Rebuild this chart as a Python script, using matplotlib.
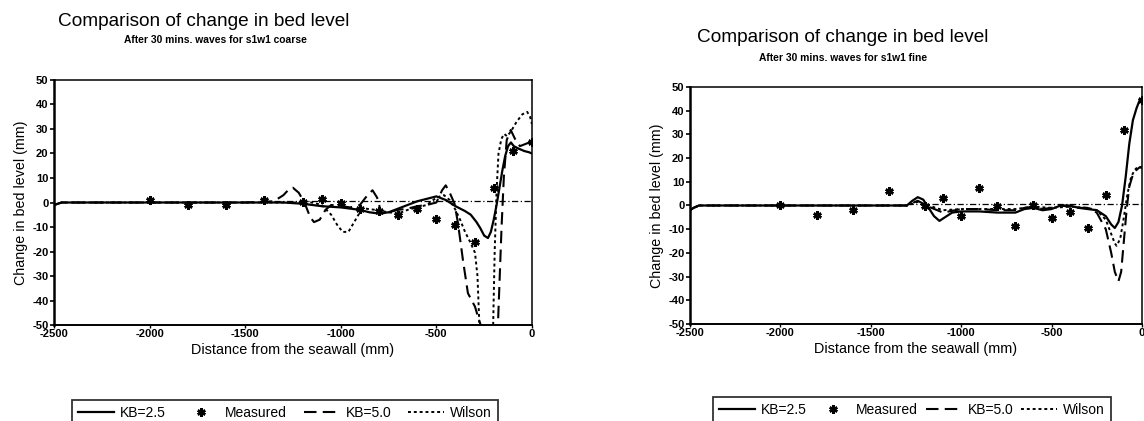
import matplotlib
matplotlib.use("Agg")
import matplotlib.pyplot as plt
from matplotlib import font_manager

# ---- data ----
x_ticks = [-2500, -2000, -1500, -1000, -500, 0]
y_ticks = [-50, -40, -30, -20, -10, 0, 10, 20, 30, 40, 50]

# coarse sand (left)
coarse_meas_x = [-2000, -1800, -1600, -1400, -1200, -1100, -1000, -900, -800, -700,
                 -600, -500, -400, -300, -200, -100, 0]
coarse_meas_y = [1, -1, -1, 1.2, 0.4, 1.4, -0.3, -2.7, -3.5, -5.1,
                 -2.7, -6.6, -9.2, -16, 6, 21, 24.7]

coarse_kb25_x = [-2500, -2460, -2000, -1500, -1300, -1200, -1100, -1000, -900, -850,
                 -800, -750, -700, -650, -600, -550, -500, -450, -400, -350,
                 -320, -290, -270, -250, -230, -215, -200, -185, -170, -155,
                 -140, -125, -110, -95, -70, -40, -15, 0]
coarse_kb25_y = [-1, 0, 0, 0, 0, -0.5, -1.5, -2, -3, -4,
                 -4.5, -4, -2.5, -1, 0.5, 1.5, 2.5, 1, -1.5, -3.5,
                 -5, -8, -10.5, -13.5, -14.5, -12, -7, -1, 6, 13,
                 19, 23, 24.5, 23, 22, 21, 20.5, 20]

coarse_kb50_x = [-2500, -2460, -2000, -1500, -1350, -1300, -1270, -1250, -1220, -1190,
                 -1160, -1140, -1110, -1080, -1050, -1000, -950, -900, -860, -834,
                 -810, -787, -750, -700, -650, -600, -550, -500, -470, -451,
                 -430, -405, -387, -361, -335, -298, -277, -268, -260, -185,
                 -178, -159, -147, -132, -111, -89, -63, -30, 0]
coarse_kb50_y = [-1, 0, 0, 0, 0.5, 3, 5.5, 6, 4, 0,
                 -6, -8, -7, -3, -1, -1.5, -2, -1, 3, 5,
                 2, -4.5, -4, -3, -2.5, -1.5, -1, 0, 5, 7,
                 4, -0.5, -8.4, -23.5, -37, -42.5, -48, -50, -60, -60,
                 -50, -10, 10.5, 25.5, 29.6, 26, 23, 24, 25]

coarse_wil_x = [-2500, -2460, -2000, -1500, -1150, -1100, -1050, -1020, -990, -960,
                -930, -900, -870, -820, -750, -700, -650, -600, -550, -500,
                -460, -430, -400, -376, -350, -324, -298, -285, -275, -265,
                -215, -203, -195, -185, -175, -160, -145, -130, -110, -80,
                -50, -25, -10, 0]
coarse_wil_y = [-1, 0, 0, 0, 0, -1, -5, -9, -12, -12,
                -8, -4, -2.5, -3, -4, -4.5, -3, -2, -1, 2,
                3, 1, -3, -7, -12, -16, -20.5, -30, -50, -60,
                -60, -50, -20, 5, 20, 26, 28, 27, 29, 33,
                36, 37, 35, 32]

coarse_init_x = [-1350, 0]
coarse_init_y = [0.8, 0.8]

# fine sand (right)
fine_meas_x = [-2000, -1800, -1600, -1400, -1200, -1100, -1000, -900, -800, -700,
               -600, -500, -400, -300, -200, -100, 0]
fine_meas_y = [0, -4.2, -2.1, 6.2, -0.3, 3.2, -4.6, 7.5, -0.3, -8.7,
               0.4, -5.2, -2.8, -9.4, 4.4, 31.7, 44.4]

fine_kb25_x = [-2500, -2480, -2450, -1400, -1300, -1270, -1240, -1210, -1180, -1150,
               -1120, -1090, -1050, -1000, -900, -800, -700, -650, -600, -550,
               -500, -450, -400, -350, -300, -250, -200, -170, -150, -130,
               -110, -90, -70, -50, -30, -15, 0]
fine_kb25_y = [-2, -1, 0, 0, 0, 2, 3.5, 2.5, -1, -4.5,
               -6.5, -5, -3, -2.5, -2.5, -3, -3, -1.5, -1, -2,
               -1.5, 0, 0, -1, -1.5, -2, -4.5, -8, -9.5, -7,
               0, 12, 26, 36, 41, 44, 45]

fine_kb50_x = [-2500, -2480, -2450, -1400, -1300, -1240, -1180, -1100, -1000, -900,
               -800, -700, -650, -600, -550, -500, -450, -400, -350, -300,
               -250, -200, -170, -150, -130, -115, -100, -85, -70, -50,
               -30, -15, 0]
fine_kb50_y = [-2, -1, 0, 0, 0, 2, -0.5, -3, -1.5, -1.5,
               -2, -2, -1, -0.5, -1.5, -1, 0, -0.5, -1, -1,
               -3, -10, -20, -28, -32, -28, -15, -2, 8, 13,
               15, 16, 16]

fine_wil_x = [-2500, -2480, -2450, -1400, -1300, -1240, -1180, -1100, -1000, -900,
              -800, -700, -600, -500, -400, -300, -250, -200, -170, -150,
              -140, -120, -100, -80, -60, -40, -20, 0]
fine_wil_y = [-2, -1, 0, 0, 0, 1.5, 0, -2, -1.5, -1.5,
              -1.5, -1.5, -0.5, -1, -0.5, -1, -2, -6, -12, -16,
              -17, -14, -5, 5, 12, 15, 16.5, 16]

fine_init_x = [-1300, 0]
fine_init_y = [0.5, 0.5]

# ---- fonts: narrow face like the scan if it is there ----
names = {f.name for f in font_manager.fontManager.ttflist}
narrow = "Liberation Sans Narrow" in names
face = "Liberation Sans Narrow" if narrow else "Liberation Sans"
k = 1.0 if narrow else 0.78  # title shrink when only the normal width face exists
plt.rcParams["font.family"] = [face, "DejaVu Sans"]

fig = plt.figure(figsize=(11.44, 4.21), dpi=100)


def draw_panel(ax, meas_x, meas_y, kb25, kb50, wil, init):
    ax.plot(kb25[0], kb25[1], color="black", lw=1.6, label="KB=2.5")
    ax.plot(meas_x, meas_y, ls="none", marker=(6, 2, 0), ms=6, mew=1.8,
            color="black", label="Measured")
    ax.plot(kb50[0], kb50[1], color="black", lw=1.5, ls=(0, (6, 3)), label="KB=5.0")
    ax.plot(wil[0], wil[1], color="black", lw=1.4, ls=(0, (1.5, 1.5)), label="Wilson")
    ax.plot(init[0], init[1], color="black", lw=0.9, ls=(0, (5, 2, 1, 2)))

    ax.set_xlim(-2500, 0)
    ax.set_ylim(-50, 50)
    ax.set_xticks(x_ticks)
    ax.set_xticklabels([str(v) for v in x_ticks], fontsize=8, fontweight="bold")
    ax.set_yticks(y_ticks)
    ax.set_yticklabels([str(v) for v in y_ticks], fontsize=8, fontweight="bold")
    ax.tick_params(axis="y", length=3, width=1.2, pad=1)
    ax.tick_params(axis="x", length=2, width=1.0, pad=1)
    for s in ax.spines.values():
        s.set_linewidth(1.1)
    ax.spines["left"].set_linewidth(1.8)
    ax.spines["bottom"].set_linewidth(1.4)
    ax.set_xlabel("Distance from the seawall (mm)", fontsize=10.4, labelpad=3)
    ax.set_ylabel("Change in bed level (mm)", fontsize=10.3, labelpad=3)


ax1 = fig.add_axes([0.0472, 0.228, 0.4178, 0.582])
draw_panel(ax1, coarse_meas_x, coarse_meas_y,
           (coarse_kb25_x, coarse_kb25_y), (coarse_kb50_x, coarse_kb50_y),
           (coarse_wil_x, coarse_wil_y), (coarse_init_x, coarse_init_y))

ax2 = fig.add_axes([0.6031, 0.2304, 0.3951, 0.563])
draw_panel(ax2, fine_meas_x, fine_meas_y,
           (fine_kb25_x, fine_kb25_y), (fine_kb50_x, fine_kb50_y),
           (fine_wil_x, fine_wil_y), (fine_init_x, fine_init_y))

# titles
fig.text(204 / 1144, 1 - 22 / 421, "Comparison of change in bed level",
         fontsize=17.5 * k, ha="center", va="center")
fig.text(215 / 1144, 1 - 40 / 421, "After 30 mins. waves for s1w1 coarse",
         fontsize=9.5 * k, fontweight="bold", ha="center", va="center")
fig.text(843 / 1144, 1 - 37 / 421, "Comparison of change in bed level",
         fontsize=17.5 * k, ha="center", va="center")
fig.text(843 / 1144, 1 - 58 / 421, "After 30 mins. waves for s1w1 fine",
         fontsize=9.5 * k, fontweight="bold", ha="center", va="center")

# legends under each panel, boxes run off the bottom edge like the scan
for ax, x0, x1, ytop in [(ax1, 72, 498, 400), (ax2, 713, 1111, 397)]:
    h, l = ax.get_legend_handles_labels()
    leg = fig.legend(h, l, loc="upper left", mode="expand",
                     bbox_to_anchor=(x0 / 1144, 1 - ytop / 421, (x1 - x0) / 1144, 0.0),
                     ncol=4, fontsize=10, frameon=True, fancybox=False,
                     edgecolor="black", handlelength=2.6, handletextpad=0.4,
                     borderpad=0.45, borderaxespad=0)
    leg.get_frame().set_linewidth(1.3)

fig.savefig("out.png", dpi=100, facecolor="white")
